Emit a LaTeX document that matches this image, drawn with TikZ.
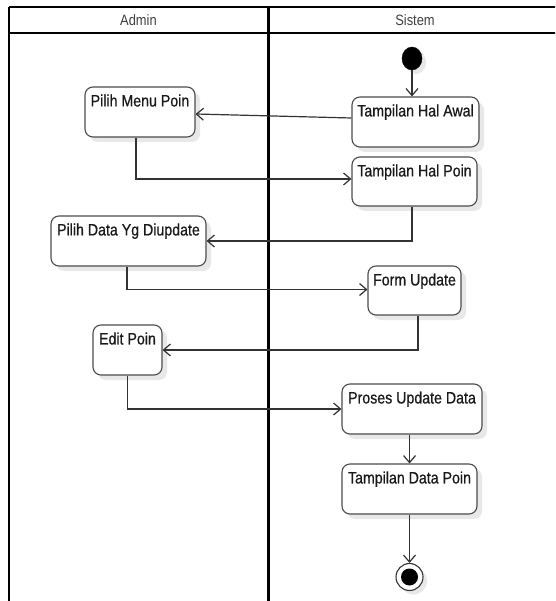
\documentclass[tikz,border=0pt]{standalone}
\usepackage{fontspec}
\setmainfont{Liberation Sans}[FakeStretch=0.86]
\newfontfamily\actfont{Liberation Sans}[FakeStretch=0.86, FakeBold=0.6]
\usetikzlibrary{arrows.meta,shadows,calc,shapes.geometric}

\tikzset{
  lane/.style={draw=black, line width=2pt},
  divider/.style={draw=black, line width=3pt},
  lanehead/.style={font=\fontsize{15}{17}\selectfont, text=black!75, inner sep=0pt},
  act/.style={draw=black!70, line width=1.1pt, rounded corners=8pt, fill=white,
    inner sep=0pt,
    drop shadow={shadow xshift=5pt, shadow yshift=-5pt, fill=black!9, opacity=1}},
  actlabel/.style={font=\actfont\fontsize{16.5}{18}\selectfont, text=black!90, anchor=base, inner sep=0pt},
  flow/.style={draw=black!80, line width=1.2pt,
    -{Straight Barb[length=7pt,width=12pt,line width=1.2pt]}},
  startnode/.style={ellipse, fill=black, draw=black, inner sep=0pt,
    drop shadow={shadow xshift=4pt, shadow yshift=-4pt, fill=black!9, opacity=1}},
  endring/.style={circle, draw=black!80, fill=white, line width=1.1pt, inner sep=0pt,
    minimum size=27pt,
    drop shadow={shadow xshift=4pt, shadow yshift=-4pt, fill=black!9, opacity=1}},
}

% an activity box with its label set near the top edge
\newcommand{\activity}[6]{%
  \node[act, minimum width=#4pt, minimum height=#5pt] (#1) at (#2,#3) {};
  \node[actlabel] (#1-t) at ($(#1.north)+(0,20)$) {#6};}

\begin{document}
\begin{tikzpicture}[x=1pt, y=-1pt]
  \clip (0,0) rectangle (555,601);
  \fill[white] (0,0) rectangle (555,601);

  % swimlane frame
  \draw[lane] (9,7.5) -- (570,7.5);
  \draw[lane] (9,33) -- (570,33);
  \draw[lane] (9,7.5) -- (9,610);
  \draw[divider] (268,7.5) -- (268,610);
  \node[lanehead] (hadmin) at (138.5,20) {Admin};
  \node[lanehead] (hsistem) at (415,20) {Sistem};

  % activity boxes
  \activity{thaw}{415.5}{122}{127}{50}{Tampilan Hal Awal}
  \activity{thp}{414.5}{181.5}{125}{49}{Tampilan Hal Poin}
  \activity{pmp}{140}{112}{110}{50}{Pilih Menu Poin}
  \activity{pdd}{128.5}{241}{155}{50}{Pilih Data Yg Diupdate}
  \activity{fu}{414.5}{290.5}{93}{49}{Form Update}
  \activity{ep}{127.5}{350}{69}{50}{Edit Poin}
  \activity{pud}{412}{409}{140}{50}{Proses Update Data}
  \activity{tdp}{409.5}{489}{135}{50}{Tampilan Data Poin}

  % initial and final nodes
  \node[startnode, minimum width=20pt, minimum height=23pt] (start) at (412,58.5) {};
  \node[endring] (stop) at (409.5,577) {};
  \node[circle, fill=black, inner sep=0pt, minimum size=17pt] (stopdot) at (stop) {};

  % control flow
  \draw[flow] (start.south) -- (start.south |- thaw.north);
  \draw[flow] ($(thaw.west)+(0,-4)$) -- ($(pmp.east)+(0,2)$);
  \draw[flow] ($(pmp.south)+(-4,0)$) |- ($(thp.west)+(0,-2.5)$);
  \draw[flow] ($(thp.south)+(-2.5,0)$) |- (pdd.east);
  \draw[flow] ($(pdd.south)+(-1.5,0)$) |- ($(fu.west)+(0,-1)$);
  \draw[flow] ($(fu.south)+(3.5,0)$) |- (ep.east);
  \draw[flow] (ep.south) |- (pud.west);
  \draw[flow] (tdp.north |- pud.south) -- (tdp.north);
  \draw[flow] (tdp.south) -- (stop.north);
\end{tikzpicture}
\end{document}
